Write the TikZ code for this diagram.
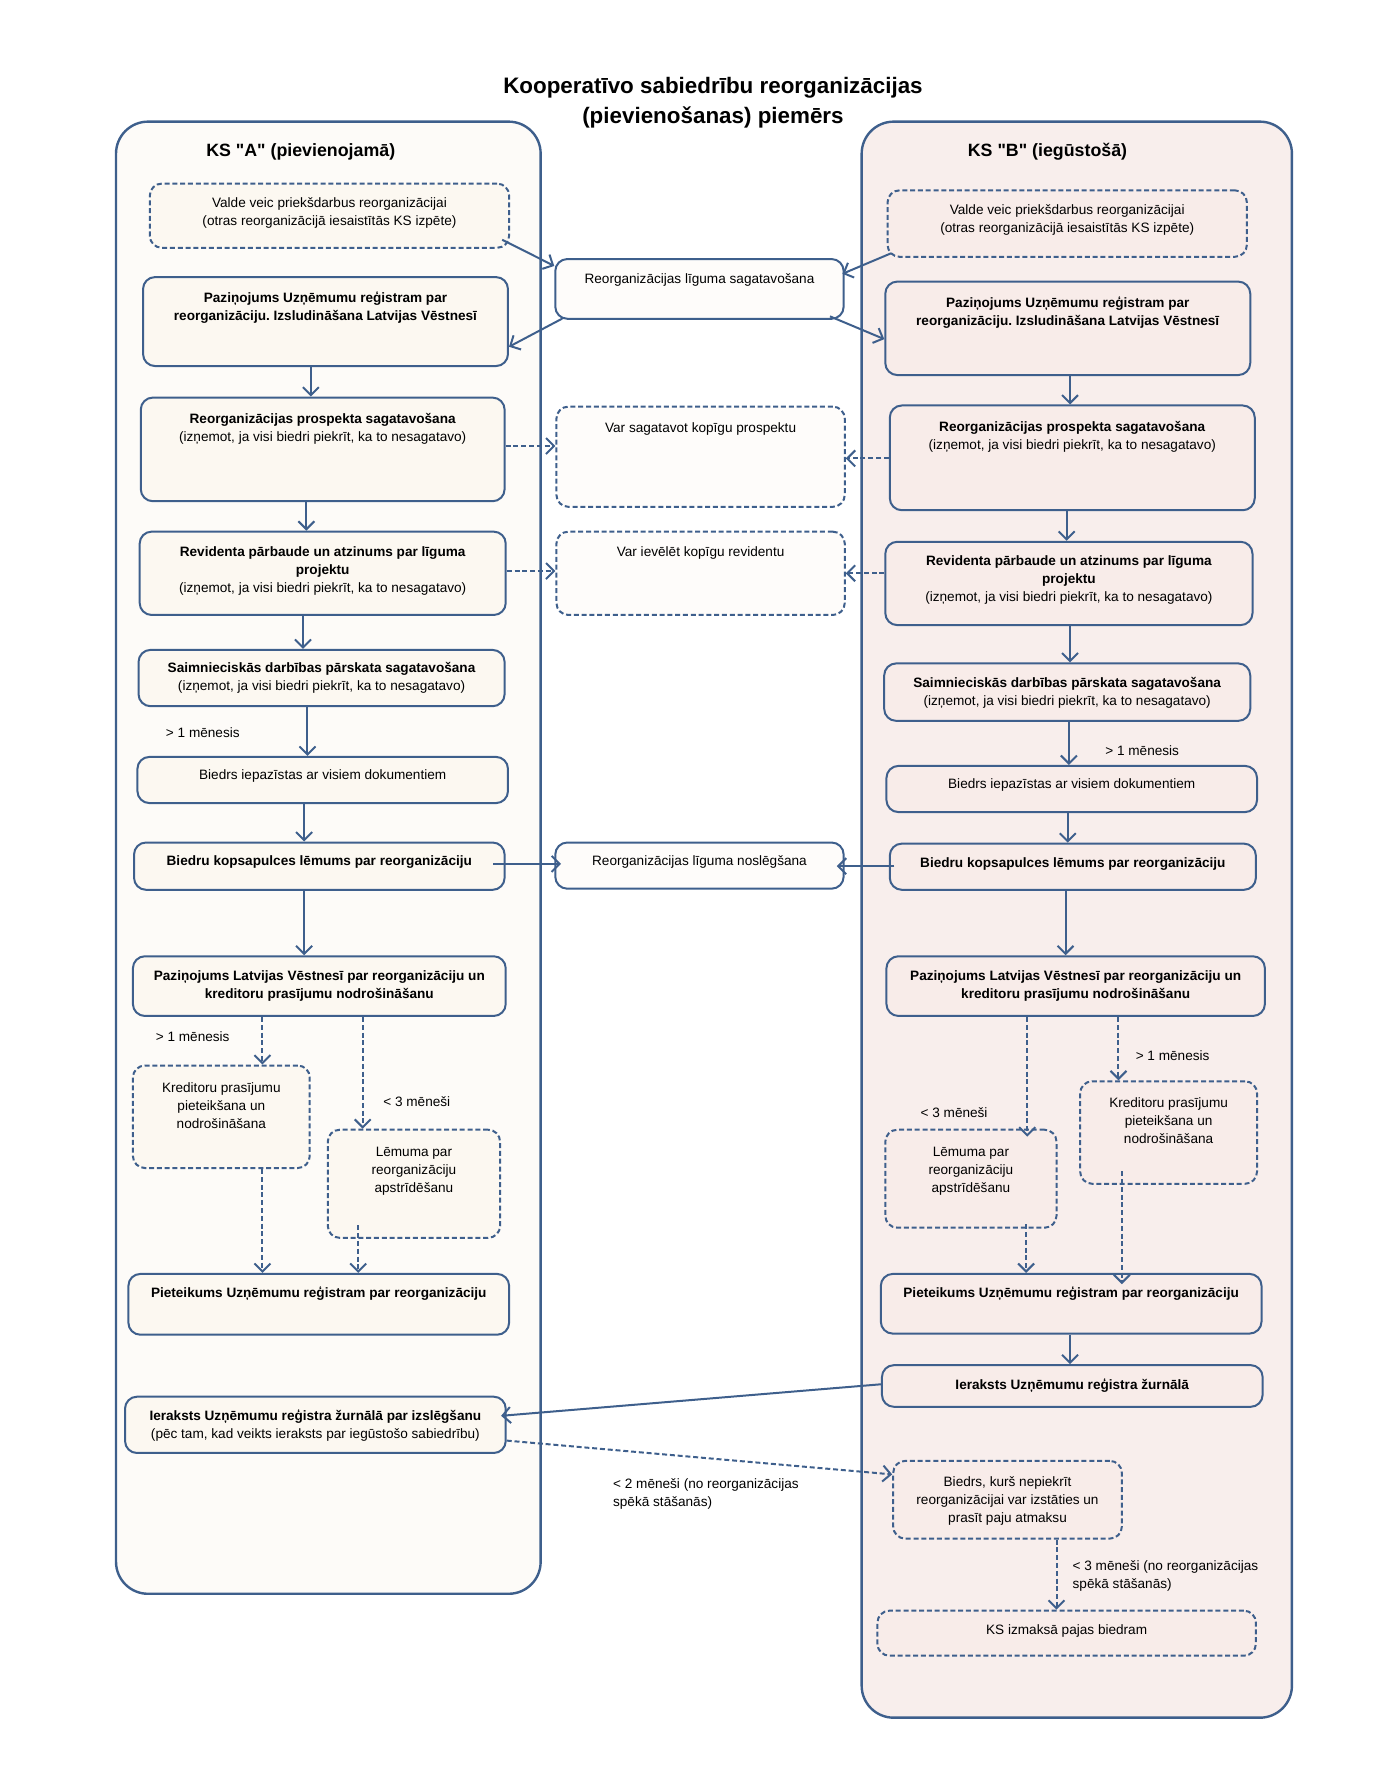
\documentclass[tikz,border=0pt]{standalone}
\usepackage{fontspec}
\setmainfont{Liberation Sans}
\usetikzlibrary{arrows.meta,fit,calc}
\definecolor{bl}{HTML}{3E5F8C}
\definecolor{panA}{HTML}{FDFBF8}
\definecolor{boxA}{HTML}{FCF8F1}
\definecolor{panB}{HTML}{F8EEEC}
\definecolor{boxB}{HTML}{F8ECE9}
\definecolor{boxM}{HTML}{FEFCFA}
\newcommand\mys{\rule{0pt}{7pt}}
\newcommand\qq{\XeTeXglyph\XeTeXcharglyph"22\relax}
\frenchspacing
\begin{document}
\begin{tikzpicture}[x=0.563265pt,y=-0.563265pt,
  panel/.style={draw=bl,line width=1.2pt,rounded corners=16pt,inner sep=0pt},
  bx/.style={draw=bl,line width=1pt,rounded corners=6pt,inner sep=0pt},
  dbx/.style={bx,dash pattern=on 2.5pt off 1.4pt},
  txt/.style={anchor=north,yshift=7pt,inner sep=0pt,align=center,font=\fontsize{6.8}{9}\selectfont},
  ltxt/.style={txt,anchor=north west,align=left},
  hd/.style={anchor=north,yshift=9pt,inner sep=0pt,align=center,font=\bfseries\fontsize{8.9}{11}\selectfont},
  ttl/.style={anchor=north,yshift=11.5pt,inner sep=0pt,align=center,font=\bfseries\fontsize{11.2}{14.6}\selectfont},
  arr/.style={draw=bl,line width=1pt,-{Straight Barb[length=4pt,width=8pt,line width=1pt]}},
  darr/.style={arr,dash pattern=on 2.5pt off 1.4pt},
]
\useasboundingbox (0,0) rectangle (1225,1583);
% panels
\node[panel,fill=panA,fit={(103,108) (480,1415)}] (PA) {};
\node[panel,fill=panB,fit={(765,108) (1147,1525)}] (PB) {};
% title and headings
\node[ttl] (title) at (633,83) {\rule{0pt}{11.5pt}Kooperatīvo sabiedrību reorganizācijas\\(pievienošanas) piemērs};
\node[hd] (hA) at (267,139) {\rule{0pt}{9pt}KS \qq A\qq{} (pievienojamā)};
\node[hd] (hB) at (930,139) {\rule{0pt}{9pt}KS \qq B\qq{} (iegūstošā)};
% left boxes
\node[dbx,fill=boxA,fit={(133,163) (452,220)}] (L1) {};
\node[bx,fill=boxA,fit={(127,246) (451,325)}] (L2) {};
\node[bx,fill=boxA,fit={(125,353) (448,445)}] (L3) {};
\node[bx,fill=boxA,fit={(124,472) (449,546)}] (L4) {};
\node[bx,fill=boxA,fit={(123,577) (448,627)}] (L5) {};
\node[bx,fill=boxA,fit={(122,672) (451,713)}] (L6) {};
\node[bx,fill=boxA,fit={(119,748) (448,790)}] (L7) {};
\node[bx,fill=boxA,fit={(118,849) (449,902)}] (L8) {};
\node[dbx,fill=boxA,fit={(118,946) (275,1037)}] (L9) {};
\node[dbx,fill=boxA,fit={(291,1003) (444,1099)}] (L10) {};
\node[bx,fill=boxA,fit={(114,1131) (452,1185)}] (L11) {};
\node[bx,fill=boxA,fit={(111,1240) (449,1290)}] (L12) {};
% middle boxes
\node[bx,fill=boxM,fit={(493,230) (749,283)}] (M1) {};
\node[dbx,fill=boxM,fit={(494,361) (750,450)}] (M2) {};
\node[dbx,fill=boxM,fit={(494,472) (750,546)}] (M3) {};
\node[bx,fill=boxM,fit={(493,748) (749,789)}] (M4) {};
% right boxes
\node[dbx,fill=boxB,fit={(788,169) (1107,228)}] (R1) {};
\node[bx,fill=boxB,fit={(786,250) (1110,333)}] (R2) {};
\node[bx,fill=boxB,fit={(790,360) (1114,453)}] (R3) {};
\node[bx,fill=boxB,fit={(786,481) (1112,555)}] (R4) {};
\node[bx,fill=boxB,fit={(785,589) (1110,640)}] (R5) {};
\node[bx,fill=boxB,fit={(787,680) (1116,721)}] (R6) {};
\node[bx,fill=boxB,fit={(790,749) (1115,790)}] (R7) {};
\node[bx,fill=boxB,fit={(787,849) (1123,902)}] (R8) {};
\node[dbx,fill=boxB,fit={(959,960) (1116,1051)}] (R9) {};
\node[dbx,fill=boxB,fit={(786,1003) (938,1090)}] (R10) {};
\node[bx,fill=boxB,fit={(782,1131) (1120,1184)}] (R11) {};
\node[bx,fill=boxB,fit={(783,1212) (1121,1249)}] (R12) {};
\node[dbx,fill=boxB,fit={(793,1297) (996,1366)}] (R13) {};
\node[dbx,fill=boxB,fit={(779,1430) (1115,1470)}] (R14) {};
% arrows top
\draw[arr] ([shift={(-7,-8)}]L1.south east) -- ([shift={(0,7)}]M1.north west);
\draw[arr] ([shift={(7,-1)}]M1.south west) -- ([shift={(0,-18)}]L2.south east);
\draw[arr] ([shift={(4,-4)}]R1.south west) -- ([shift={(-2,14)}]M1.north east);
\draw[arr] ([shift={(-13,-3)}]M1.south east) -- ([shift={(0,52)}]R2.north west);
% vertical flow
\draw[arr] (L2.south -| 276,0) -- (L3.north -| 276,0);
\draw[arr] (R2.south -| 950,0) -- (R3.north -| 950,0);
\draw[darr] (L3.east |- 0,396) -- (M2.west |- 0,396);
\draw[darr] (R3.west |- 0,407) -- (M2.east |- 0,407);
\draw[arr] (L3.south -| 272,0) -- (L4.north -| 272,0);
\draw[arr] (R3.south -| 947,0) -- (R4.north -| 947,0);
\draw[darr] (L4.east |- 0,507) -- (M3.west |- 0,507);
\draw[darr] (R4.west |- 0,509) -- (M3.east |- 0,509);
\draw[arr] (L4.south -| 269,0) -- (L5.north -| 269,0);
\draw[arr] (R4.south -| 950,0) -- (R5.north -| 950,0);
\draw[arr] (L5.south -| 273,0) -- (L6.north -| 273,0);
\draw[arr] (R5.south -| 949,0) -- (R6.north -| 949,0);
\draw[arr] (L6.south -| 270,0) -- (L7.north -| 270,0);
\draw[arr] (R6.south -| 948,0) -- (R7.north -| 948,0);
\draw[arr] ($(L7.east |- 0,767)+(-11,0)$) -- ($(M4.west |- 0,767)+(6,0)$);
\draw[arr] ($(R7.west |- 0,769)+(5,0)$) -- ($(M4.east |- 0,769)+(-7,0)$);
\draw[arr] (L7.south -| 270,0) -- (L8.north -| 270,0);
\draw[arr] (R7.south -| 946,0) -- (R8.north -| 946,0);
\draw[darr] (L8.south -| 233,0) -- (L9.north -| 233,0);
\draw[darr] (L8.south -| 322,0) -- (L10.north -| 322,0);
\draw[darr] (L9.south -| 233,0) -- (L11.north -| 233,0);
\draw[darr] ($(L10.south -| 318,0)+(0,-12)$) -- (L11.north -| 318,0);
\draw[darr] (R8.south -| 912,0) -- ($(R10.north -| 912,0)+(0,7)$);
\draw[darr] (R8.south -| 993,0) -- (R9.north -| 993,0);
\draw[darr] ($(R10.south -| 911,0)+(0,-4)$) -- (R11.north -| 911,0);
\draw[darr] ($(R9.south -| 996,0)+(0,-12)$) -- ($(R11.north -| 996,0)+(0,10)$);
\draw[arr] (R11.south -| 950,0) -- (R12.north -| 950,0);
\draw[arr] (R12.west |- 0,1229) -- ($(L12.east |- 0,1257)+(-5,0)$);
\draw[darr] (L12.east |- 0,1279) -- (R13.west |- 0,1309);
\draw[darr] (R13.south -| 938,0) -- (R14.north -| 938,0);
% texts left
\node[txt] (L1t) at (L1.north |- 0,184) {\mys Valde veic priekšdarbus reorganizācijai\\(otras reorganizācijā iesaistītās KS izpēte)};
\node[txt] (L2t) at (L2.north |- 0,268) {\mys\textbf{Paziņojums Uzņēmumu reģistram par}\\\textbf{reorganizāciju. Izsludināšana Latvijas Vēstnesī}};
\node[txt] (L3t) at (L3.north |- 0,376) {\mys\textbf{Reorganizācijas prospekta sagatavošana}\\(izņemot, ja visi biedri piekrīt, ka to nesagatavo)};
\node[txt] (L4t) at (L4.north |- 0,494) {\mys\textbf{Revidenta pārbaude un atzinums par līguma}\\\textbf{projektu}\\(izņemot, ja visi biedri piekrīt, ka to nesagatavo)};
\node[txt] (L5t) at (L5.north |- 0,597) {\mys\textbf{Saimnieciskās darbības pārskata sagatavošana}\\(izņemot, ja visi biedri piekrīt, ka to nesagatavo)};
\node[txt] (L6t) at (L6.north |- 0,692) {\mys Biedrs iepazīstas ar visiem dokumentiem};
\node[txt] (L7t) at (L7.north |- 0,768) {\mys\textbf{Biedru kopsapulces lēmums par reorganizāciju}};
\node[txt] (L8t) at (L8.north |- 0,870) {\mys\textbf{Paziņojums Latvijas Vēstnesī par reorganizāciju un}\\\textbf{kreditoru prasījumu nodrošināšanu}};
\node[txt] (L9t) at (L9.north |- 0,970) {\mys Kreditoru prasījumu\\pieteikšana un\\nodrošināšana};
\node[txt] (L10t) at (L10.north |- 0,1026) {\mys Lēmuma par\\reorganizāciju\\apstrīdēšanu};
\node[txt] (L11t) at (L11.north |- 0,1152) {\mys\textbf{Pieteikums Uzņēmumu reģistram par reorganizāciju}};
\node[txt] (L12t) at (L12.north |- 0,1261) {\mys\textbf{Ieraksts Uzņēmumu reģistra žurnālā par izslēgšanu}\\(pēc tam, kad veikts ieraksts par iegūstošo sabiedrību)};
% texts middle
\node[txt] (M1t) at (M1.north |- 0,251) {\mys Reorganizācijas līguma sagatavošana};
\node[txt] (M2t) at (M2.north |- 0,384) {\mys Var sagatavot kopīgu prospektu};
\node[txt] (M3t) at (M3.north |- 0,494) {\mys Var ievēlēt kopīgu revidentu};
\node[txt] (M4t) at (M4.north |- 0,768) {\mys Reorganizācijas līguma noslēgšana};
% texts right
\node[txt] (R1t) at (R1.north |- 0,190) {\mys Valde veic priekšdarbus reorganizācijai\\(otras reorganizācijā iesaistītās KS izpēte)};
\node[txt] (R2t) at (R2.north |- 0,273) {\mys\textbf{Paziņojums Uzņēmumu reģistram par}\\\textbf{reorganizāciju. Izsludināšana Latvijas Vēstnesī}};
\node[txt] (R3t) at (R3.north |- 0,383) {\mys\textbf{Reorganizācijas prospekta sagatavošana}\\(izņemot, ja visi biedri piekrīt, ka to nesagatavo)};
\node[txt] (R4t) at (R4.north |- 0,502) {\mys\textbf{Revidenta pārbaude un atzinums par līguma}\\\textbf{projektu}\\(izņemot, ja visi biedri piekrīt, ka to nesagatavo)};
\node[txt] (R5t) at (R5.north |- 0,610) {\mys\textbf{Saimnieciskās darbības pārskata sagatavošana}\\(izņemot, ja visi biedri piekrīt, ka to nesagatavo)};
\node[txt] (R6t) at (R6.north |- 0,700) {\mys Biedrs iepazīstas ar visiem dokumentiem};
\node[txt] (R7t) at (R7.north |- 0,770) {\mys\textbf{Biedru kopsapulces lēmums par reorganizāciju}};
\node[txt] (R8t) at (R8.north |- 0,870) {\mys\textbf{Paziņojums Latvijas Vēstnesī par reorganizāciju un}\\\textbf{kreditoru prasījumu nodrošināšanu}};
\node[txt] (R9t) at (R9.north |- 0,983) {\mys Kreditoru prasījumu\\pieteikšana un\\nodrošināšana};
\node[txt] (R10t) at (R10.north |- 0,1026) {\mys Lēmuma par\\reorganizāciju\\apstrīdēšanu};
\node[txt] (R11t) at (R11.north |- 0,1152) {\mys\textbf{Pieteikums Uzņēmumu reģistram par reorganizāciju}};
\node[txt] (R12t) at (R12.north |- 0,1233) {\mys\textbf{Ieraksts Uzņēmumu reģistra žurnālā}};
\node[txt] (R13t) at (R13.north |- 0,1319) {\mys Biedrs, kurš nepiekrīt\\reorganizācijai var izstāties un\\prasīt paju atmaksu};
\node[txt] (R14t) at (R14.north |- 0,1451) {\mys KS izmaksā pajas biedram};
% labels
\node[ltxt] (lb1) at (147,654) {\mys > 1 mēnesis};
\node[ltxt] (lb2) at (138,924) {\mys > 1 mēnesis};
\node[ltxt] (lb3) at (340,982) {\mys < 3 mēneši};
\node[ltxt] (lb4) at (981,670) {\mys > 1 mēnesis};
\node[ltxt] (lb5) at (1008,941) {\mys > 1 mēnesis};
\node[ltxt] (lb6) at (817,992) {\mys < 3 mēneši};
\node[ltxt] (lb7) at (544,1321) {\mys < 2 mēneši (no reorganizācijas\\spēkā stāšanās)};
\node[ltxt] (lb8) at (952,1394) {\mys < 3 mēneši (no reorganizācijas\\spēkā stāšanās)};
\end{tikzpicture}
\end{document}
